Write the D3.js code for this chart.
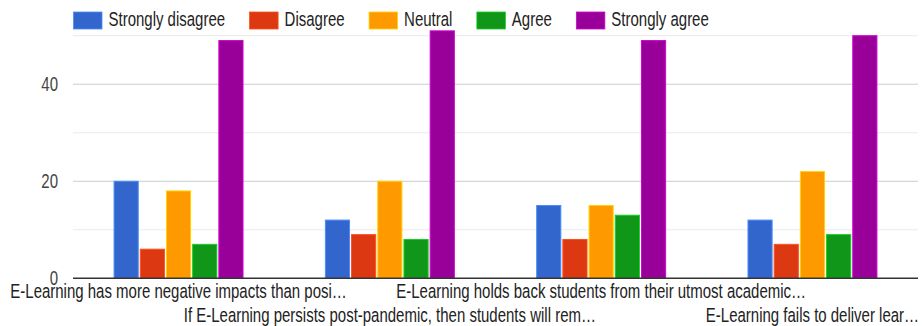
<!DOCTYPE html>
<html>
<head>
<meta charset="utf-8">
<script src="https://cdn.jsdelivr.net/npm/d3@7"></script>
<style>
  body { margin: 0; background: #fff; }
  svg { display: block; font-family: "Liberation Sans", Arial, sans-serif; }
</style>
</head>
<body>
<div id="chart"></div>
<script>
const categories = [
    "E-Learning has more negative impacts than posi…",
    "If E-Learning persists post-pandemic, then students will rem…",
    "E-Learning holds back students from their utmost academic…",
    "E-Learning fails to deliver lear…"
];
const seriesNames = ["Strongly disagree", "Disagree", "Neutral", "Agree", "Strongly agree"];
const seriesColors = ["#3366cc", "#dc3912", "#ff9900", "#109618", "#990099"];
const stronglyDisagree = [20, 12, 15, 12];
const disagree = [6, 9, 8, 7];
const neutral = [18, 20, 15, 22];
const agree = [7, 8, 13, 9];
const stronglyAgree = [49, 51, 49, 50];
const yTickValues = [0, 20, 40];
const minorGrid = [10, 30, 50];

const width = 922, height = 326;
const stretch = "scale(1,1.3)"; // the source image is a bit taller than normal text

const seriesValues = [stronglyDisagree, disagree, neutral, agree, stronglyAgree];
const rows = categories.map((c, i) => ({
    cat: c,
    values: seriesNames.map((s, j) => ({ key: s, v: seriesValues[j][i], color: seriesColors[j] }))
}));

const svg = d3.select("#chart").append("svg")
    .attr("width", width)
    .attr("height", height);

const x = d3.scaleBand()
    .domain(categories)
    .range([73, 918])
    .paddingInner(0.385)
    .paddingOuter(0.192);

const xInner = d3.scaleBand()
    .domain(seriesNames)
    .range([0, x.bandwidth()])
    .paddingInner(0.04);

const y = d3.scaleLinear()
    .domain([0, 50])
    .range([278.3, 35.7]);

// gridlines
svg.append("g").selectAll("line")
    .data(minorGrid)
    .join("line")
    .attr("x1", 73).attr("x2", 918)
    .attr("y1", d => y(d)).attr("y2", d => y(d))
    .attr("stroke", "#ebebeb");

svg.append("g").selectAll("line")
    .data(yTickValues.filter(d => d > 0))
    .join("line")
    .attr("x1", 73).attr("x2", 918)
    .attr("y1", d => y(d)).attr("y2", d => y(d))
    .attr("stroke", "#cccccc");

// bars
const groups = svg.append("g").selectAll("g")
    .data(rows)
    .join("g")
    .attr("transform", d => `translate(${x(d.cat)},0)`);

groups.selectAll("rect")
    .data(d => d.values)
    .join("rect")
    .attr("x", d => xInner(d.key) + 0.5)
    .attr("y", d => y(d.v))
    .attr("width", xInner.bandwidth() - 1)
    .attr("height", d => y(0) - y(d.v))
    .attr("fill", d => d.color)
    .attr("stroke", d => d3.color(d.color).brighter(0.9))
    .attr("stroke-width", 1);

// baseline
svg.append("line")
    .attr("x1", 73).attr("x2", 918)
    .attr("y1", y(0)).attr("y2", y(0))
    .attr("stroke", "#333")
    .attr("stroke-width", 1.5);

// Y axis labels
const yAxis = svg.append("g")
    .attr("transform", "translate(58,0)")
    .call(d3.axisLeft(y).tickValues(yTickValues).tickSize(0).tickPadding(0));
yAxis.select(".domain").remove();
yAxis.selectAll("text")
    .attr("font-size", 15)
    .attr("font-family", "Liberation Sans, Arial, sans-serif")
    .attr("fill", "#444")
    .attr("x", 0)
    .attr("dy", "0.32em")
    .attr("transform", stretch);

// X axis labels, staggered on two rows
const xAxis = svg.append("g")
    .attr("transform", `translate(0,${y(0)})`)
    .call(d3.axisBottom(x).tickSize(0).tickPadding(0));
xAxis.select(".domain").remove();
xAxis.selectAll("text")
    .attr("font-size", 15)
    .attr("font-family", "Liberation Sans, Arial, sans-serif")
    .attr("fill", "#222")
    .attr("y", 0)
    .attr("dy", 0)
    .attr("transform", (d, i) => `translate(0,${i % 2 === 0 ? 20 : 44}) ${stretch}`);

// legend
const legend = svg.append("g");
let lx = 73.5;
seriesNames.forEach((name, i) => {
    const item = legend.append("g").attr("transform", `translate(${lx},0)`);
    item.append("rect")
        .attr("x", 0).attr("y", 12)
        .attr("width", 28.5).attr("height", 17)
        .attr("fill", seriesColors[i])
        .attr("stroke", d3.color(seriesColors[i]).brighter(0.9))
        .attr("stroke-width", 0.8);
    const t = item.append("text")
        .attr("transform", `translate(35,26) ${stretch}`)
        .attr("font-size", 15)
        .attr("fill", "#222")
        .text(name);
    lx += 35 + t.node().getComputedTextLength() + 24.5;
});
</script>
</body>
</html>
